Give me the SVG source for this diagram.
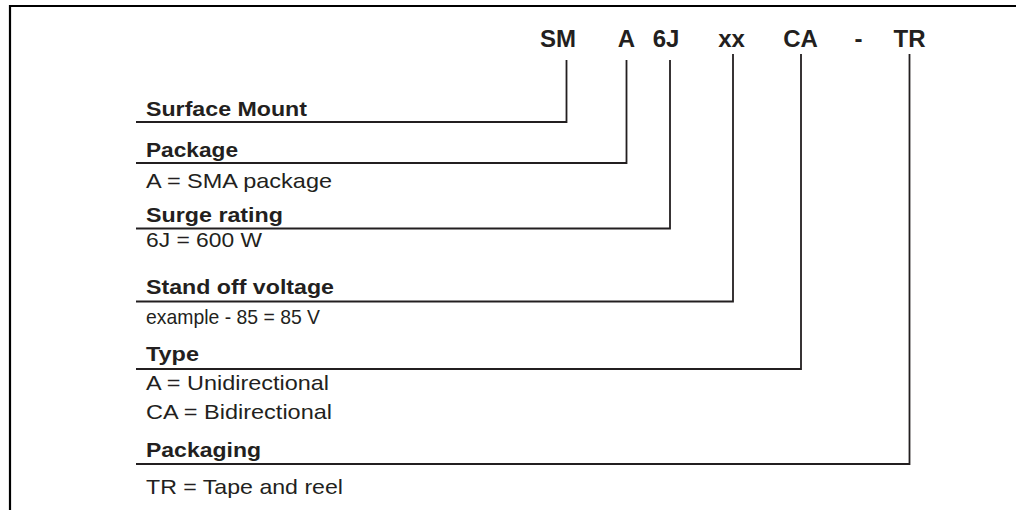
<svg xmlns="http://www.w3.org/2000/svg" width="1016" height="510" viewBox="0 0 1016 510">
<style>
.code{font-family:"Liberation Sans",Arial,sans-serif;font-weight:bold;font-size:24px;fill:#231f20;text-anchor:middle}
.hd{font-family:"Liberation Sans",Arial,sans-serif;font-weight:bold;font-size:21px;fill:#231f20}
.tx{font-family:"Liberation Sans",Arial,sans-serif;font-size:21px;fill:#231f20}
.ln{fill:none;stroke:#231f20;stroke-width:1.8}
</style>
<rect width="1016" height="510" fill="#fff"/>
<path d="M10,510 V6 H1016" fill="none" stroke="#000" stroke-width="2.2"/>
<g id="code">
<text class="code" x="558" y="47">SM</text>
<text class="code" x="626.5" y="47">A</text>
<text class="code" x="666" y="47">6J</text>
<text class="code" x="731.5" y="47">xx</text>
<text class="code" x="800.5" y="47">CA</text>
<text class="code" x="858.5" y="47">-</text>
<text class="code" x="909.5" y="47">TR</text>
</g>
<g id="connectors">
<polyline class="ln" points="566.5,60 566.5,122 136,122"/>
<polyline class="ln" points="626.5,60 626.5,163 136,163"/>
<polyline class="ln" points="670,60 670,228.5 136,228.5"/>
<polyline class="ln" points="733,54 733,301.5 136,301.5"/>
<polyline class="ln" points="801,54 801,369 136,369"/>
<polyline class="ln" points="909.5,54 909.5,464 136,464"/>
</g>
<g id="surface-mount">
<text class="hd" x="146" y="116" textLength="161" lengthAdjust="spacingAndGlyphs">Surface Mount</text>
</g>
<g id="package">
<text class="hd" x="146" y="157" textLength="92" lengthAdjust="spacingAndGlyphs">Package</text>
<text class="tx" x="146" y="188" textLength="186" lengthAdjust="spacingAndGlyphs">A = SMA package</text>
</g>
<g id="surge-rating">
<text class="hd" x="146" y="222" textLength="137" lengthAdjust="spacingAndGlyphs">Surge rating</text>
<text class="tx" x="146" y="247" textLength="116" lengthAdjust="spacingAndGlyphs">6J = 600 W</text>
</g>
<g id="stand-off-voltage">
<text class="hd" x="146" y="294" textLength="188" lengthAdjust="spacingAndGlyphs">Stand off voltage</text>
<text class="tx" x="146" y="324" textLength="174" lengthAdjust="spacingAndGlyphs">example - 85 = 85 V</text>
</g>
<g id="type">
<text class="hd" x="146" y="361" textLength="53" lengthAdjust="spacingAndGlyphs">Type</text>
<text class="tx" x="146" y="390" textLength="183" lengthAdjust="spacingAndGlyphs">A = Unidirectional</text>
<text class="tx" x="146" y="419" textLength="186" lengthAdjust="spacingAndGlyphs">CA = Bidirectional</text>
</g>
<g id="packaging">
<text class="hd" x="146" y="457" textLength="115" lengthAdjust="spacingAndGlyphs">Packaging</text>
<text class="tx" x="146" y="494" textLength="197" lengthAdjust="spacingAndGlyphs">TR = Tape and reel</text>
</g>
</svg>
